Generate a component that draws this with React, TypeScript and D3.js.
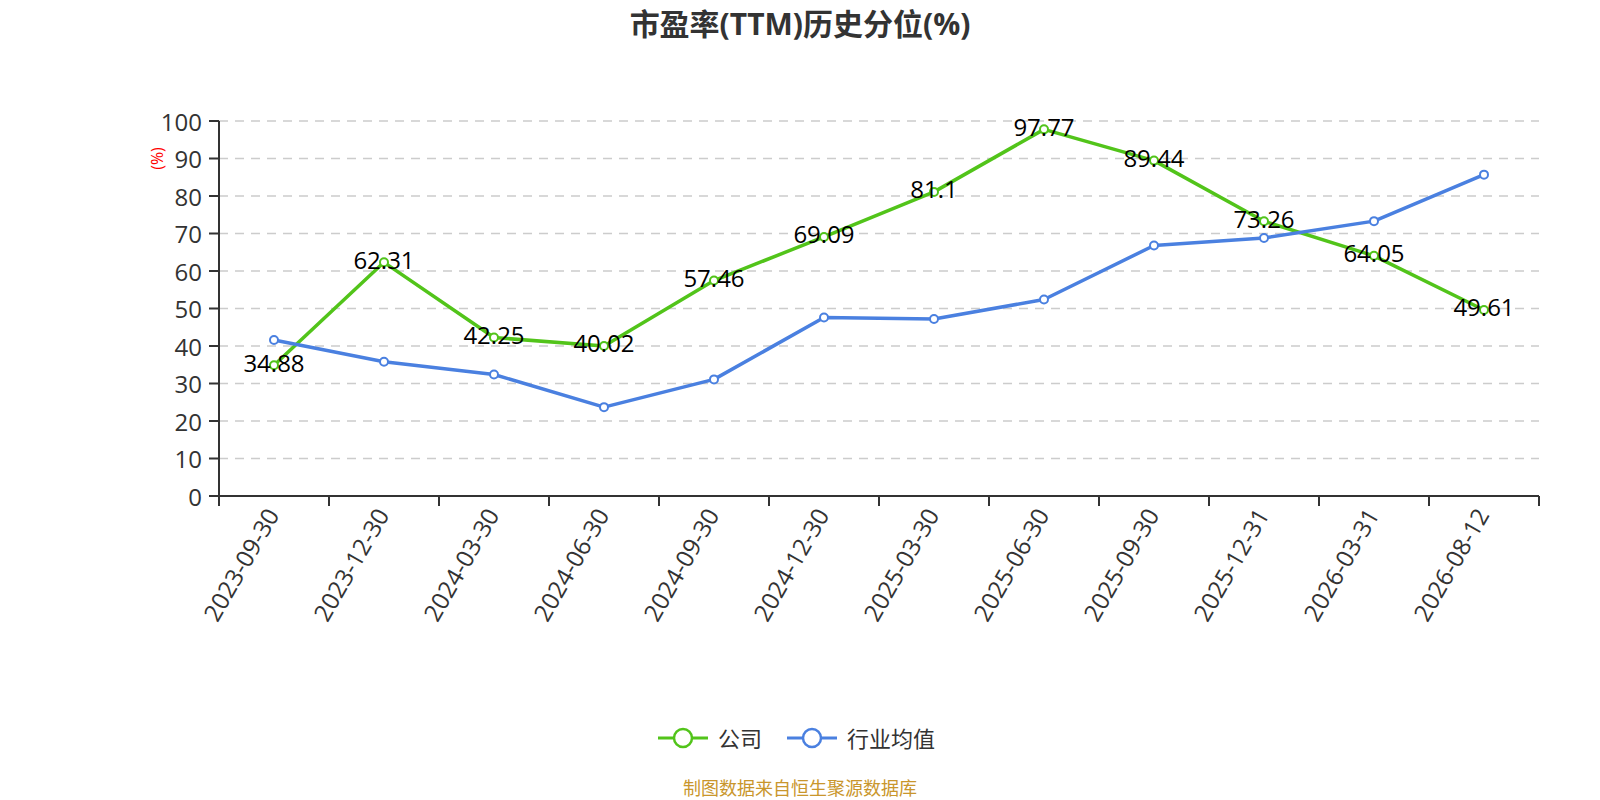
import React from 'react';
import * as d3 from 'd3';

const dates = [
  '2023-09-30', '2023-12-30', '2024-03-30', '2024-06-30', '2024-09-30', '2024-12-30',
  '2025-03-30', '2025-06-30', '2025-09-30', '2025-12-31', '2026-03-31', '2026-08-12',
];
const company = [34.88, 62.31, 42.25, 40.02, 57.46, 69.09, 81.1, 97.77, 89.44, 73.26, 64.05, 49.61];
const industry = [41.6, 35.8, 32.4, 23.7, 31.1, 47.6, 47.2, 52.4, 66.8, 68.8, 73.3, 85.7];
const yTicks = [0, 10, 20, 30, 40, 50, 60, 70, 80, 90, 100];
const seriesNames = ['公司', '行业均值'];

const W = 1600;
const H = 800;
const margin = { left: 219, right: 61, top: 121, bottom: 304 };
const GREEN = '#52c41a';
const BLUE = '#4a80e0';
const FONT = '"Open Sans", "Noto Sans CJK SC", sans-serif';

const App: React.FC = () => {
  const x = d3.scaleBand<string>()
    .domain(dates)
    .range([margin.left, W - margin.right]);
  const y = d3.scaleLinear()
    .domain([0, 100])
    .range([H - margin.bottom, margin.top]);
  const cx = (d: string) => (x(d) ?? 0) + x.bandwidth() / 2;

  const line = d3.line<number>()
    .x((_, i) => cx(dates[i]))
    .y(d => y(d));

  const y0 = y(0);
  const series = [
    { name: seriesNames[0], values: company, color: GREEN },
    { name: seriesNames[1], values: industry, color: BLUE },
  ];

  return (
    <svg width={W} height={H} style={{ position: 'fixed', left: 0, top: 0, background: '#fff' }}
      fontFamily={FONT}>
      <text x={W / 2} y={23} textAnchor="middle" dominantBaseline="central"
        fontSize={30} fontWeight="bold" fill="#333">市盈率(TTM)历史分位(%)</text>

      {/* grid */}
      {yTicks.filter(t => t > 0).map(t => (
        <line key={t} x1={margin.left} x2={W - margin.right} y1={y(t)} y2={y(t)}
          stroke="#ccc" strokeWidth={1.5} strokeDasharray="9,7" />
      ))}

      {/* y axis */}
      <line x1={margin.left} x2={margin.left} y1={margin.top} y2={y0} stroke="#333" strokeWidth={2} />
      {yTicks.map(t => (
        <g key={t}>
          <line x1={margin.left - 10} x2={margin.left} y1={y(t)} y2={y(t)} stroke="#333" strokeWidth={2} />
          <text x={margin.left - 17} y={y(t)} textAnchor="end" dominantBaseline="central"
            fontSize={24} fill="#333">{t}</text>
        </g>
      ))}
      <text transform={`translate(157,${y(90)}) rotate(-90)`} textAnchor="middle" dominantBaseline="central"
        fontSize={16} fill="red">(%)</text>

      {/* x axis */}
      <line x1={margin.left} x2={W - margin.right} y1={y0} y2={y0} stroke="#333" strokeWidth={2} />
      {[...dates.map(d => x(d) ?? 0), W - margin.right].map((px, i) => (
        <line key={i} x1={px} x2={px} y1={y0} y2={y0 + 10} stroke="#333" strokeWidth={2} />
      ))}
      {dates.map(d => (
        <text key={d} transform={`translate(${cx(d) - 2},${y0 + 14}) rotate(-60)`}
          textAnchor="end" dominantBaseline="central" fontSize={24} fill="#333">{d}</text>
      ))}

      {/* lines */}
      {series.map(s => (
        <g key={s.name}>
          <path d={line(s.values) ?? ''} fill="none" stroke={s.color} strokeWidth={3.5} strokeLinejoin="round" />
          {s.values.map((v, i) => (
            <circle key={i} cx={cx(dates[i])} cy={y(v)} r={4} fill="#fff" stroke={s.color} strokeWidth={2} />
          ))}
        </g>
      ))}
      {company.map((v, i) => (
        <text key={i} x={cx(dates[i])} y={y(v) - 3} textAnchor="middle" dominantBaseline="central"
          fontSize={24} fill="#000">{v}</text>
      ))}

      {/* legend */}
      {[{ x0: 658, tx: 718 }, { x0: 787, tx: 847 }].map((p, i) => (
        <g key={i}>
          <line x1={p.x0} x2={p.x0 + 50} y1={738} y2={738} stroke={series[i].color} strokeWidth={3} />
          <circle cx={p.x0 + 25} cy={738} r={9} fill="#fff" stroke={series[i].color} strokeWidth={2.5} />
          <text x={p.tx} y={738} dominantBaseline="central" fontSize={22} fill="#333">{series[i].name}</text>
        </g>
      ))}

      <text x={W / 2} y={788} textAnchor="middle" dominantBaseline="central" fontSize={18} fill="#c9962c">
        制图数据来自恒生聚源数据库
      </text>
    </svg>
  );
};

export default App;
